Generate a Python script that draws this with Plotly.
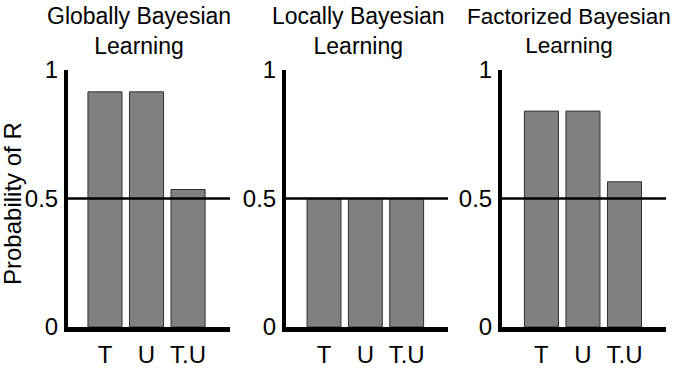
import plotly.graph_objects as go

categories = ["T", "U", "T.U"]
panel_titles = ["Globally Bayesian<br>Learning", "Locally Bayesian<br>Learning", "Factorized Bayesian<br>Learning"]
global_vals = [0.915, 0.915, 0.535]
local_vals = [0.5, 0.5, 0.5]
factor_vals = [0.84, 0.84, 0.565]
series = [global_vals, local_vals, factor_vals]
y_ticks = [0, 0.5, 1]
y_ticktext = ["0", "0.5", "1"]
ref_level = 0.5

W, H = 674, 382
px_domains = [(68, 230), (286, 448), (502, 666)]
x_ranges = [[-0.89, 3.01], [-0.92, 3.0], [-0.95, 3.0]]
title_centers = [139, 358, 569]
title_sizes = [23, 23, 22.5]
y_dom = [(H - 327) / H, (H - 70) / H]

TICKFONT = dict(family="Liberation Sans, Arial", size=24, color="black")

fig = go.Figure()
annotations = []
shapes = []
for i, vals in enumerate(series):
    n = "" if i == 0 else str(i + 1)
    fig.add_trace(go.Bar(
        x=categories, y=vals, xaxis="x" + n, yaxis="y" + n,
        marker=dict(color="#808080", line=dict(color="#303030", width=1)),
        width=0.82, showlegend=False,
    ))
    d0, d1 = px_domains[i]
    fig.layout["xaxis" + n] = dict(
        domain=[d0 / W, d1 / W], anchor="y" + n, range=x_ranges[i],
        type="category", showline=True, linewidth=5, linecolor="black",
        showgrid=False, zeroline=False, ticks="", tickfont=TICKFONT,
        ticklabelstandoff=2, automargin=False,
    )
    fig.layout["yaxis" + n] = dict(
        domain=y_dom, anchor="x" + n, range=[0, 1],
        showline=True, linewidth=4, linecolor="black",
        showgrid=False, zeroline=False, ticks="",
        tickvals=y_ticks, ticktext=y_ticktext, tickfont=TICKFONT,
        ticklabelstandoff=1, automargin=False,
    )
    shapes.append(dict(
        type="line", xref="x" + n + " domain", yref="y" + n,
        x0=0, x1=1, y0=ref_level, y1=ref_level,
        line=dict(color="black", width=2.5), layer="above",
    ))
    annotations.append(dict(
        text=panel_titles[i], xref="paper", yref="paper",
        x=title_centers[i] / W, y=(H - 31) / H,
        xanchor="center", yanchor="middle", showarrow=False,
        font=dict(family="Liberation Sans, Arial", size=title_sizes[i], color="black"),
        align="center",
    ))

annotations.append(dict(
    text="Probability of R", xref="paper", yref="paper",
    x=12 / W, y=(H - 204) / H, xanchor="center", yanchor="middle",
    textangle=-90, showarrow=False,
    font=dict(family="Liberation Sans, Arial", size=24, color="black"),
))

fig.update_layout(
    width=W, height=H, margin=dict(l=0, r=0, t=0, b=0, autoexpand=False),
    paper_bgcolor="white", plot_bgcolor="white",
    annotations=annotations, shapes=shapes, bargap=0.18,
)

fig.write_html("out.html")
